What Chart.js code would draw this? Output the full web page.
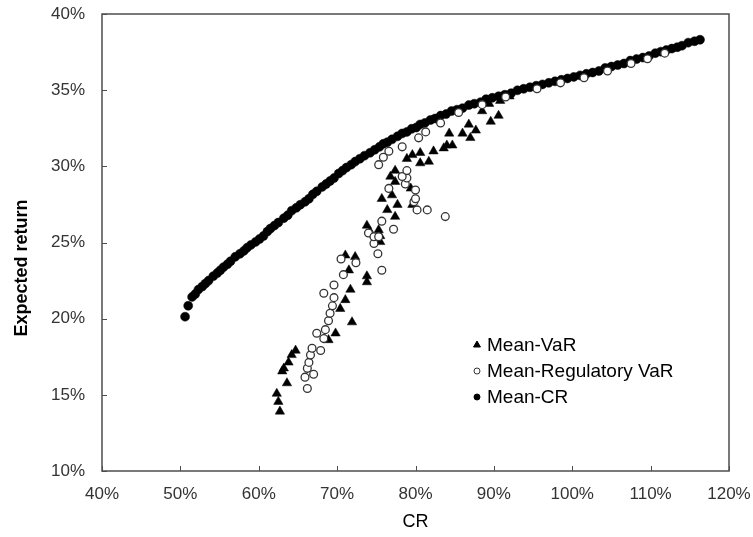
<!DOCTYPE html>
<html><head><meta charset="utf-8">
<script src="https://cdn.jsdelivr.net/npm/chart.js@4.4.1/dist/chart.umd.min.js"></script>
<style>html,body{margin:0;padding:0;background:#fff}#wrap{width:753px;height:537px}</style>
</head><body><div id="wrap"><canvas id="c" width="753" height="537"></canvas></div>
<script>
const xTicks = [40, 50, 60, 70, 80, 90, 100, 110, 120];
const yTicks = [10, 15, 20, 25, 30, 35, 40];
const seriesNames = ['Mean-VaR', 'Mean-Regulatory VaR', 'Mean-CR'];
const axisTitles = { x: 'CR', y: 'Expected return' };

// [CR %, expected return %]
const meanVaR = [
  [62.7,13.91],[62.5,14.55],[62.3,15.08],[63.6,15.77],[63.0,16.55],[63.2,16.74],[63.8,17.13],[64.2,17.62],[64.7,17.91],
  [68.9,18.60],[69.8,19.04],[71.9,19.77],[70.4,20.65],[71.05,21.23],[71.7,21.91],[73.8,22.40],[73.8,22.79],[71.5,23.18],
  [71.05,24.16],[72.3,24.06],[75.5,25.04],[75.5,25.43],[74.2,25.72],[75.3,25.82],[73.8,26.11],[77.4,26.70],[76.4,27.14],
  [77.7,27.48],[79.6,27.48],[77.0,28.11],[75.7,27.87],[79.4,28.55],[77.4,28.99],[76.8,29.33],[77.4,29.72],[80.6,30.21],
  [81.7,30.31],[78.9,30.50],[79.6,30.75],[80.6,30.89],[82.3,30.99],[83.6,31.19],[84.0,31.38],[84.7,31.38],[84.3,32.16],
  [86.0,32.16],[87.0,31.87],[87.7,32.36],[86.8,32.75],[89.6,32.94],[90.6,33.33],[88.5,33.63],[89.4,34.11],[90.8,34.31],[92.0,34.60]
];
const meanRegVaR = [
  [66.2,15.42],[65.9,16.16],[67.0,16.35],[66.2,16.74],[66.4,17.13],[66.6,17.62],[67.9,17.91],[66.8,18.06],[68.3,18.69],
  [67.4,19.04],[68.5,19.28],[68.9,19.86],[69.1,20.35],[69.4,20.84],[69.6,21.38],[68.3,21.67],[69.6,22.21],[70.8,22.89],
  [75.7,23.18],[72.4,23.67],[70.5,23.92],[75.2,24.26],[74.7,24.94],[74.0,25.62],[74.7,25.38],[75.3,25.38],[77.2,25.87],
  [75.7,26.40],[83.8,26.70],[80.2,27.14],[81.5,27.14],[79.8,27.67],[80.0,27.87],[80.0,28.45],[76.6,28.55],[78.7,28.84],
  [78.9,29.23],[78.3,29.33],[78.9,29.72],[75.3,30.11],[75.9,30.60],[76.6,30.99],[78.3,31.28],[80.4,31.87],[81.3,32.26],
  [83.2,32.85],[85.5,33.53],[88.5,34.05],[91.5,34.55],[95.5,35.09],[98.5,35.48],[101.5,35.82],[104.5,36.26],[107.5,36.75],
  [109.6,37.06],[111.8,37.43]
];
const meanCR = [
  [50.6,20.13],[51.0,20.85],[51.5,21.43],[51.9,21.62],[52.3,21.91],[52.8,22.11],[53.2,22.31],[53.6,22.50],[54.2,22.79],
  [54.7,22.99],[55.1,23.18],[55.5,23.38],[56.0,23.57],[56.4,23.77],[57.0,24.06],[57.6,24.26],[58.1,24.45],[58.5,24.65],
  [59.0,24.84],[59.6,25.04],[60.1,25.23],[60.6,25.43],[61.1,25.72],[61.5,25.92],[62.0,26.11],[62.5,26.31],[63.2,26.60],
  [63.7,26.79],[64.2,27.09],[64.8,27.28],[65.3,27.48],[65.9,27.67],[66.4,27.87],[66.9,28.16],[67.4,28.36],[68.1,28.65],
  [68.6,28.84],[69.1,29.04],[69.6,29.23],[70.2,29.53],[70.7,29.72],[71.2,29.92],[71.8,30.11],[72.3,30.31],[72.9,30.50],
  [73.5,30.70],[74.2,30.89],[74.8,31.09],[75.4,31.28],[75.9,31.48],[76.4,31.58],[77.0,31.77],[77.7,31.97],[78.3,32.16],
  [78.9,32.26],[79.5,32.46],[80.1,32.55],[80.6,32.75],[81.2,32.85],[81.9,33.04],[82.5,33.14],[83.2,33.33],[83.9,33.43],
  [84.6,33.63],[85.3,33.72],[86.0,33.82],[86.8,34.02],[87.5,34.11],[88.3,34.21],[89.0,34.41],[89.8,34.50],[90.6,34.60],
  [91.4,34.70],[92.2,34.80],[93.0,34.99],[93.8,35.09],[94.6,35.19],[95.4,35.29],[96.2,35.38],[97.0,35.48],[97.8,35.58],
  [98.6,35.68],[99.4,35.77],[100.2,35.87],[101.0,35.97],[101.8,36.07],[102.6,36.16],[103.4,36.26],[104.2,36.46],[105.0,36.55],
  [105.8,36.65],[106.6,36.75],[107.4,36.94],[108.2,37.04],[109.0,37.14],[109.8,37.24],[110.6,37.43],[111.3,37.53],[112.0,37.63],
  [112.7,37.73],[113.4,37.82],[114.0,37.92],[114.8,38.12],[115.6,38.21],[116.3,38.31]
];

const toPts = arr => arr.map(([x, y]) => ({ x, y }));
const FONT = "'Liberation Sans', Arial, sans-serif";

const frameAndTicks = {
  id: 'frameAndTicks',
  beforeDatasetsDraw(chart) {
    const { ctx, chartArea: a, scales } = chart;
    ctx.save();
    ctx.strokeStyle = '#4d4d4d';
    ctx.lineWidth = 1.5;
    ctx.strokeRect(a.left, a.top, a.right - a.left, a.bottom - a.top);
    ctx.beginPath();
    scales.x.ticks.forEach(t => {
      const px = Math.round(scales.x.getPixelForValue(t.value)) + 0.5;
      ctx.moveTo(px, a.bottom); ctx.lineTo(px, a.bottom - 5);
    });
    scales.y.ticks.forEach(t => {
      const py = Math.round(scales.y.getPixelForValue(t.value)) + 0.5;
      ctx.moveTo(a.left, py); ctx.lineTo(a.left + 5, py);
    });
    ctx.lineWidth = 1;
    ctx.stroke();
    // y axis title (placed slightly below the plot centre, as in the original)
    ctx.save();
    ctx.translate(22, 268);
    ctx.rotate(-Math.PI / 2);
    ctx.font = 'bold 18px ' + FONT;
    ctx.fillStyle = '#000';
    ctx.textAlign = 'center';
    ctx.textBaseline = 'middle';
    ctx.fillText(axisTitles.y, 0, 0);
    ctx.restore();
    ctx.restore();
  }
};

const customLegend = {
  id: 'customLegend',
  afterDraw(chart) {
    const { ctx } = chart;
    const x0 = 477, ys = [345, 371, 397];
    ctx.save();
    ctx.font = '19px ' + FONT;
    ctx.textBaseline = 'middle';
    chart.data.datasets.forEach((ds, i) => {
      const y = ys[i];
      ctx.fillStyle = ds.backgroundColor;
      ctx.strokeStyle = ds.borderColor;
      ctx.lineWidth = 1;
      Chart.helpers.drawPoint(ctx, { pointStyle: ds.pointStyle, radius: ds.pointStyle === 'triangle' ? 4 : 3, rotation: 0, borderWidth: 1 }, x0, y);
      ctx.fillStyle = '#000';
      ctx.fillText(ds.label, x0 + 10, y + 1);
    });
    ctx.restore();
  }
};

new Chart(document.getElementById('c'), {
  type: 'scatter',
  data: {
    datasets: [
      { label: seriesNames[0], data: toPts(meanVaR), pointStyle: 'triangle', pointRadius: 5.4,
        backgroundColor: '#000', borderColor: '#000', borderWidth: 0.5, order: 1 },
      { label: seriesNames[1], data: toPts(meanRegVaR), pointStyle: 'circle', pointRadius: 3.9,
        backgroundColor: '#fff', borderColor: '#333', borderWidth: 1.3, order: 0 },
      { label: seriesNames[2], data: toPts(meanCR), pointStyle: 'circle', pointRadius: 4.5,
        backgroundColor: '#000', borderColor: '#000', borderWidth: 0.5, order: 2 }
    ]
  },
  options: {
    responsive: false, animation: false, devicePixelRatio: 1,
    layout: { padding: { left: 0, right: 24, top: 14, bottom: 0 } },
    plugins: { legend: { display: false }, tooltip: { enabled: false } },
    scales: {
      x: {
        type: 'linear', min: 40, max: 120,
        afterBuildTicks: s => { s.ticks = xTicks.map(v => ({ value: v })); },
        afterFit: s => { s.height = 66; s.paddingLeft = 0; s.paddingRight = 0; },
        grid: { display: false, drawTicks: false }, border: { display: false },
        ticks: { callback: v => v + '%', font: { family: FONT, size: 17 }, color: '#333', padding: 13, maxRotation: 0 },
        title: { display: true, text: axisTitles.x, font: { family: FONT, size: 18 }, color: '#000', padding: { top: 0, bottom: 4 } }
      },
      y: {
        type: 'linear', min: 10, max: 40,
        afterBuildTicks: s => { s.ticks = yTicks.map(v => ({ value: v })); },
        afterFit: s => { s.width = 102; s.paddingTop = 0; s.paddingBottom = 0; },
        grid: { display: false, drawTicks: false }, border: { display: false },
        ticks: { callback: v => v + '%', font: { family: FONT, size: 17 }, color: '#333', padding: 17 },
        title: { display: false }
      }
    }
  },
  plugins: [frameAndTicks, customLegend]
});
</script>
</body></html>
